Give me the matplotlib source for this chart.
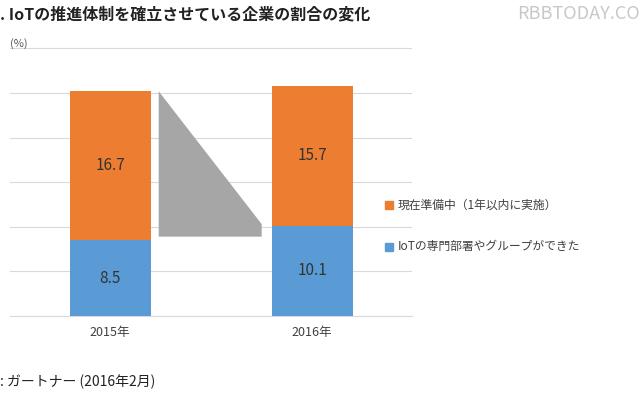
import matplotlib
matplotlib.use("Agg")
import matplotlib.pyplot as plt
from matplotlib.patches import Polygon

plt.rcParams['font.family'] = ['Noto Sans CJK JP']

years = ["2015年", "2016年"]
group = [8.5, 10.1]
prep = [16.7, 15.7]
labels = ["現在準備中（1年以内に実施）", "IoTの専門部署やグループができた"]
orange = "#ED7D31"
blue = "#5B9BD5"

fig = plt.figure(figsize=(6.4, 4.0), dpi=100)
ax = fig.add_axes([0.016, 0.21, 0.628, 0.68])
x = [0, 1]
w = 0.4
ax.bar(x, group, w, color=blue, zorder=3)
ax.bar(x, prep, w, bottom=group, color=orange, zorder=3)
for i in x:
    ax.text(i, group[i]/2, f"{group[i]}", ha='center', va='center', fontsize=11, color='#333333', zorder=4)
    ax.text(i, group[i]+prep[i]/2, f"{prep[i]}", ha='center', va='center', fontsize=11, color='#333333', zorder=4)
poly = Polygon([(0.24, group[0]+prep[0]), (0.75, 10.3), (0.75, 8.9), (0.24, 8.9)],
               closed=True, facecolor='#A6A6A6', edgecolor='none', zorder=2)
ax.add_patch(poly)
ax.set_xlim(-0.495, 1.495)
ax.set_ylim(0, 30.5)
ax.set_yticks(range(0, 31, 5))
ax.yaxis.grid(True, color='#D9D9D9', lw=0.8, zorder=0)
ax.set_yticklabels([])
ax.tick_params(left=False, bottom=False)
ax.set_xticks(x)
ax.set_xticklabels(years, fontsize=9, color='#404040')
for s in ['top', 'right', 'left']:
    ax.spines[s].set_visible(False)
ax.spines['bottom'].set_color('#D9D9D9')

fig.text(0.0, 0.965, ". IoTの推進体制を確立させている企業の割合の変化", fontsize=11.5, fontweight='bold', va='center', color='#222222')
fig.text(1.0, 0.965, "RBBTODAY.CO", fontsize=13, va='center', ha='right', color='#C8C8C8')
fig.text(0.016, 0.89, "(%)", fontsize=8, color='#595959', va='center')
fig.text(0.0, 0.045, ": ガートナー (2016年2月)", fontsize=10, va='center', color='#222222')

fig.patches.append(plt.Rectangle((0.602, 0.477), 0.012, 0.02, color=orange, transform=fig.transFigure, figure=fig))
fig.text(0.622, 0.487, labels[0], fontsize=8.5, va='center', color='#404040')
fig.patches.append(plt.Rectangle((0.602, 0.373), 0.012, 0.02, color=blue, transform=fig.transFigure, figure=fig))
fig.text(0.622, 0.383, labels[1], fontsize=8.5, va='center', color='#404040')

fig.savefig("out.png", dpi=100)
